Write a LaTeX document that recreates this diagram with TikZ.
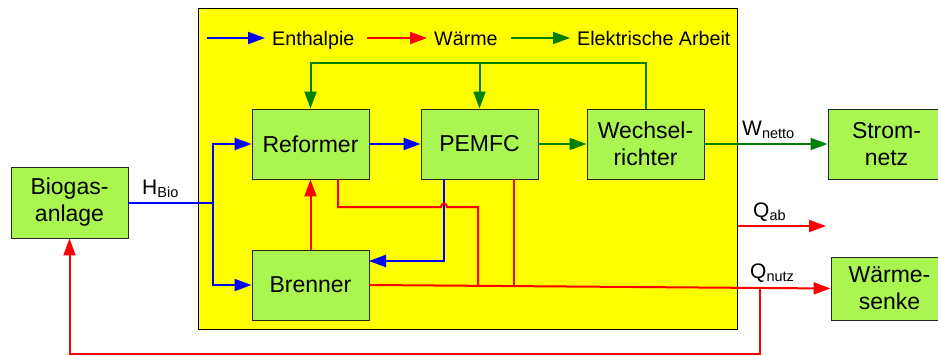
\documentclass[tikz,border=0pt]{standalone}
\usepackage{fontspec}
\setmainfont{Liberation Sans}
\usetikzlibrary{arrows.meta}
\definecolor{boxgreen}{RGB}{170,245,80}
\definecolor{flowgreen}{RGB}{0,128,0}
\definecolor{flowblue}{RGB}{0,0,255}
\definecolor{flowred}{RGB}{255,0,0}
\definecolor{sysyellow}{RGB}{255,255,0}
\newcommand{\lbl}[2]{\fontsize{21}{24}\selectfont #1\raisebox{-3.5pt}{\fontsize{14.5}{16}\selectfont #2}}
\begin{document}
\begin{tikzpicture}[x=1pt,y=-1pt,
  blk/.style={draw=black!85, line width=0.9pt, fill=boxgreen, minimum width=117pt, minimum height=70pt,
    inner sep=0pt, align=center, font=\fontsize{23}{27}\selectfont},
  sysbox/.style={draw=black, line width=1pt, fill=sysyellow, inner sep=0pt},
  tip/.style={-{Triangle[length=17pt,width=12pt]}},
  ent/.style={draw=flowblue, line width=2pt},
  heat/.style={draw=flowred, line width=2pt},
  ele/.style={draw=flowgreen, line width=2pt},
  leg/.style={anchor=base west, inner sep=0pt, font=\fontsize{19.7}{22}\selectfont},
  lab/.style={anchor=base west, inner sep=0pt}]
\useasboundingbox (0,0) rectangle (938,356);
% system boundary
\node[sysbox, minimum width=539pt, minimum height=321pt] (sys) at (467.5,168.5) {};
% blocks
\node[blk, minimum height=71pt] (bio) at (69.5,202.5) {Biogas-\\anlage};
\node[blk] (ref) at (310.5,144) {Reformer};
\node[blk] (pem) at (479.5,144) {PEMFC};
\node[blk] (wr) at (645.5,144) {Wechsel-\\richter};
\node[blk] (bren) at (310.5,285) {Brenner};
\node[blk] (strom) at (886.5,144) {Strom-\\netz};
\node[blk, minimum height=63pt] (senke) at (889.5,288.5) {Wärme-\\senke};
% legend
\coordinate (lb1) at (207,38); \coordinate (lb2) at (265,38);
\coordinate (lr1) at (367,38); \coordinate (lr2) at (427,38);
\coordinate (lg1) at (511,38); \coordinate (lg2) at (570,38);
\draw[ent,tip] (lb1) -- (lb2);
\draw[heat,tip] (lr1) -- (lr2);
\draw[ele,tip] (lg1) -- (lg2);
\node[leg] (tEnth) at (272,45.5) {Enthalpie};
\node[leg] (tWaer) at (434,45.5) {Wärme};
\node[leg] (tElek) at (577,45.5) {Elektrische Arbeit};
% enthalpy flows
\coordinate (j1) at (213,202.5);
\draw[ent] (bio.east) -- (j1);
\draw[ent,tip] (j1) |- (ref.west);
\draw[ent,tip] (j1) |- (bren.west);
\draw[ent,tip] (ref) -- (pem);
\coordinate (pb) at (444,179);
\coordinate (bin) at (369,261);
\draw[ent,tip] (pb) |- (bin);
% electrical flows
\coordinate (gt) at (0,63);
\draw[ele,tip] (pem) -- (wr);
\draw[ele,tip] (wr) -- (strom);
\draw[ele,tip] (wr.north) -- (wr.north |- gt) -| (ref.north);
\draw[ele,tip] (pem.north |- gt) -- (pem.north);
% heat flows
\draw[heat,tip] (bren) -- (ref);
\coordinate (rb) at (338,179);
\coordinate (h1) at (441,207);
\coordinate (h2) at (447,207);
\coordinate (rc) at (478,207);
\coordinate (rd) at (478,285.8);
\draw[heat] (rb) |- (h1) .. controls (441,202.5) and (447,202.5) .. (h2) -- (rc) -- (rd);
\coordinate (pr) at (514,179);
\coordinate (pd) at (514,286.1);
\draw[heat] (pr) -- (pd);
\draw[heat,tip] (bren.east) -- (senke.west);
\coordinate (rt) at (760,287.7);
\coordinate (rl) at (760,354);
\draw[heat,tip] (rt) -- (rl) -| (bio.south);
\coordinate (qa) at (sys.east |- 0,226);
\coordinate (qb) at (826,226);
\draw[heat,tip] (qa) -- (qb);
% labels
\node[lab] (lHBio) at (142,194) {\lbl{H}{Bio}};
\node[lab] (lW) at (742,135) {\lbl{W}{netto}};
\node[lab] (lQab) at (753,217) {\lbl{Q}{ab}};
\node[lab] (lQn) at (750,278) {\lbl{Q}{nutz}};
\end{tikzpicture}
\end{document}
